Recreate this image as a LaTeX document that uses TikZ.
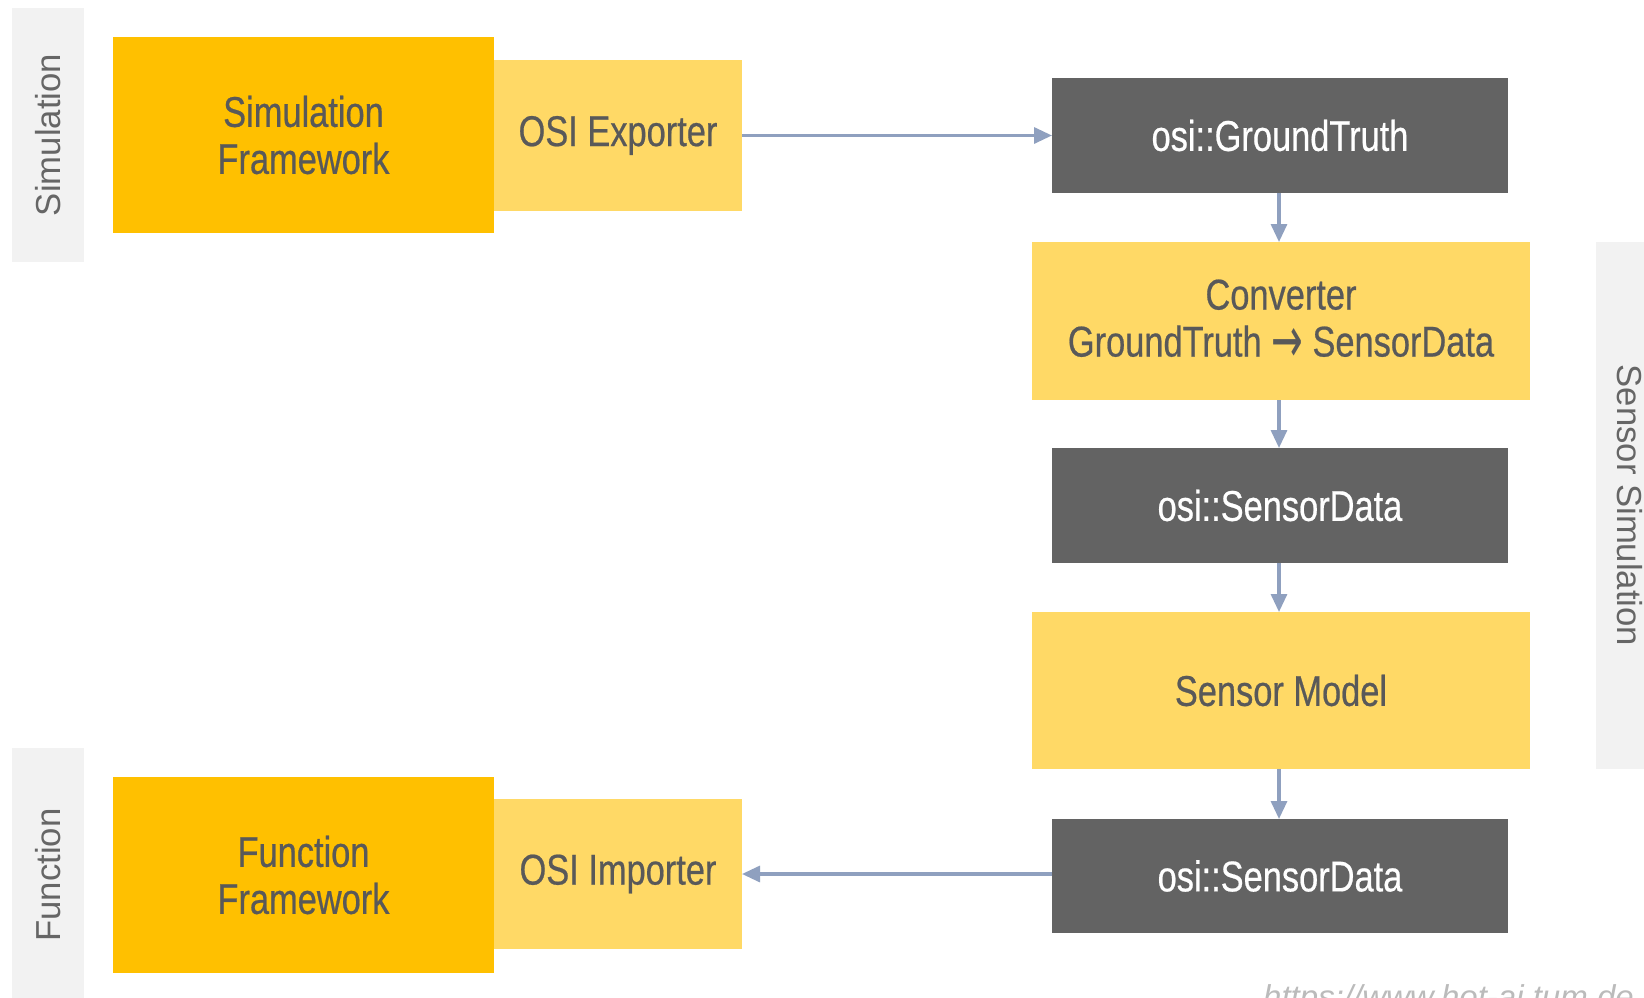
\documentclass[tikz,border=0pt]{standalone}
\usepackage{fontspec}
\setmainfont{Liberation Sans}
\newfontfamily\boxfont[FakeStretch=0.8,FakeBold=0.5]{Liberation Sans}
\newfontfamily\arrowfont[FakeStretch=0.8]{DejaVu Sans}
\newfontfamily\labfont{Liberation Sans}
\usetikzlibrary{arrows.meta}
\definecolor{amber}{HTML}{FFC000}
\definecolor{lightyel}{HTML}{FFD966}
\definecolor{darkbox}{HTML}{636363}
\definecolor{labbg}{HTML}{F2F2F2}
\definecolor{txtgray}{HTML}{595959}
\definecolor{labtxt}{HTML}{666666}
\definecolor{arrowc}{HTML}{8FA0BF}
\definecolor{urlc}{HTML}{BBBBBB}
\begin{document}
\begin{tikzpicture}[x=1pt,y=-1pt,
  base/.style={inner sep=0pt, outer sep=0pt, align=center},
  yelbox/.style={base, fill=lightyel, text=txtgray, font=\boxfont\fontsize{43}{47}\selectfont},
  ambbox/.style={base, fill=amber, text=txtgray, font=\boxfont\fontsize{43}{47}\selectfont},
  darkbx/.style={base, fill=darkbox, text=white, font=\boxfont\fontsize{43}{47}\selectfont},
  sidelab/.style={base, fill=labbg, text=labtxt, font=\labfont\fontsize{34.7}{40}\selectfont},
  sidetxt/.style={text=labtxt, font=\labfont\fontsize{34.7}{40}\selectfont, inner sep=0pt},
  conn/.style={draw=arrowc, line width=3.2pt, -{Triangle[length=18pt,width=16pt]}}
]
\useasboundingbox (0,0) rectangle (1644,998);
\fill[white] (0,0) rectangle (1644,998);

% side labels
\node[sidelab, minimum width=72pt, minimum height=254pt] (simlab) at (48,135) {};
\node[sidetxt, rotate=90] (simlabt) at (simlab.center) {Simulation};
\node[sidelab, minimum width=72pt, minimum height=262pt] (funclab) at (48,879) {};
\node[sidetxt, rotate=90] (funclabt) at (48,875) {Function};
\node[sidelab, minimum width=74pt, minimum height=527pt] (senslab) at (1633,505.5) {};
\node[sidetxt, rotate=-90] (senslabt) at (1630,505.5) {Sensor Simulation};

% left blocks
\node[ambbox, minimum width=381pt, minimum height=196pt] (simfw) at (303.5,135) {Simulation\\Framework};
\node[yelbox, minimum width=248pt, minimum height=150pt] (exporter) at (618,135.5) {OSI Exporter};
\node[ambbox, minimum width=381pt, minimum height=196pt] (funcfw) at (303.5,875) {Function\\Framework};
\node[yelbox, minimum width=248pt, minimum height=150pt] (importer) at (618,874) {OSI Importer};

% right column
\node[darkbx, minimum width=456pt, minimum height=115pt] (gt) at (1280,135.5) {osi::GroundTruth};
\node[yelbox, minimum width=498pt, minimum height=158pt] (conv) at (1281,321) {Converter\\GroundTruth \raisebox{-6pt}{\scalebox{1.1}[1.5]{\arrowfont →}} SensorData};
\node[darkbx, minimum width=456pt, minimum height=115pt] (sd1) at (1280,505.5) {osi::SensorData};
\node[yelbox, minimum width=498pt, minimum height=157pt] (sm) at (1281,690.5) {Sensor Model};
\node[darkbx, minimum width=456pt, minimum height=114pt] (sd2) at (1280,876) {osi::SensorData};

% connectors
\draw[conn] (exporter.east) -- (gt.west);
\draw[conn] (gt.south -| 1279,0) -- (conv.north -| 1279,0);
\draw[conn] (conv.south -| 1279,0) -- (sd1.north -| 1279,0);
\draw[conn] (sd1.south -| 1279,0) -- (sm.north -| 1279,0);
\draw[conn] (sm.south -| 1279,0) -- (sd2.north -| 1279,0);
\draw[conn] (sd2.west |- importer.east) -- (importer.east);

% url (clipped at page edge, as in the reference)
\node[anchor=base west, inner sep=0pt, text=urlc, font=\itshape\fontsize{33}{38}\selectfont] (url) at (1263,1008) {https://www.hot-ai.tum.de};
\end{tikzpicture}
\end{document}
